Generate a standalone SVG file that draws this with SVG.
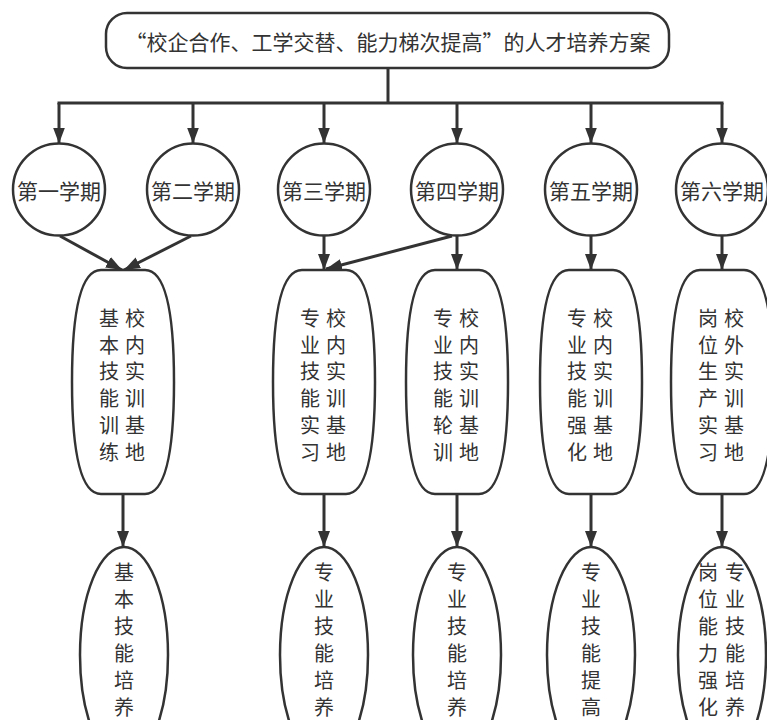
<svg xmlns="http://www.w3.org/2000/svg" width="767" height="720" viewBox="0 0 767 720">
<defs>
<style>
.shape{fill:#fff;stroke:#333;stroke-width:2.5}
.conn{stroke:#333;stroke-width:3;fill:none}
.arr{marker-end:url(#ah)}
text{font-family:"Noto Sans CJK SC","Noto Sans",sans-serif;fill:#333;text-anchor:middle;dominant-baseline:central}
.t1{font-size:21px}
.t2{font-size:20px}
</style>
<marker id="ah" markerUnits="userSpaceOnUse" markerWidth="16" markerHeight="12" refX="16" refY="6" orient="auto">
<path d="M0,0 L16,6 L0,12 Z" fill="#333"/>
</marker>
</defs>
<rect width="767" height="720" fill="#fff"/>

<g id="connectors">
<line class="conn" x1="388" y1="68" x2="388" y2="103"/>
<line class="conn" x1="57.5" y1="103" x2="723.5" y2="103"/>
<line class="conn arr" x1="59" y1="103" x2="59" y2="143.5"/>
<line class="conn arr" x1="193" y1="103" x2="193" y2="143.5"/>
<line class="conn arr" x1="324" y1="103" x2="324" y2="143.5"/>
<line class="conn arr" x1="457" y1="103" x2="457" y2="143.5"/>
<line class="conn arr" x1="591" y1="103" x2="591" y2="143.5"/>
<line class="conn arr" x1="722" y1="103" x2="722" y2="143.5"/>
<line class="conn arr" x1="60" y1="236" x2="122" y2="270"/>
<line class="conn arr" x1="191" y1="236" x2="124" y2="270"/>
<line class="conn arr" x1="324" y1="235.5" x2="324" y2="270"/>
<line class="conn arr" x1="452" y1="236" x2="326" y2="269"/>
<line class="conn arr" x1="457" y1="235.5" x2="457" y2="270"/>
<line class="conn arr" x1="591" y1="235.5" x2="591" y2="270"/>
<line class="conn arr" x1="722" y1="235.5" x2="722" y2="270"/>
<line class="conn arr" x1="123" y1="494" x2="123" y2="547"/>
<line class="conn arr" x1="324" y1="494" x2="324" y2="547"/>
<line class="conn arr" x1="457" y1="494" x2="457" y2="547"/>
<line class="conn arr" x1="591" y1="494" x2="591" y2="547"/>
<line class="conn arr" x1="722" y1="494" x2="722" y2="547"/>
</g>

<g id="title">
<rect class="shape" x="106" y="13" width="563" height="55" rx="21" ry="21"/>
<text class="t1" x="388" y="41">“校企合作、工学交替、能力梯次提高”的人才培养方案</text>
</g>

<g id="sem1"><circle class="shape" cx="59" cy="189.5" r="46"/><text class="t1" x="59" y="189.5">第一学期</text></g>
<g id="sem2"><circle class="shape" cx="193" cy="189.5" r="46"/><text class="t1" x="193" y="189.5">第二学期</text></g>
<g id="sem3"><circle class="shape" cx="324" cy="189.5" r="46"/><text class="t1" x="324" y="189.5">第三学期</text></g>
<g id="sem4"><circle class="shape" cx="457" cy="189.5" r="46"/><text class="t1" x="457" y="189.5">第四学期</text></g>
<g id="sem5"><circle class="shape" cx="591" cy="189.5" r="46"/><text class="t1" x="591" y="189.5">第五学期</text></g>
<g id="sem6"><circle class="shape" cx="722" cy="189.5" r="46"/><text class="t1" x="722" y="189.5">第六学期</text></g>

<g id="base1">
<path class="shape" d="M101,270 H145 C167,270 174,318 174,382 C174,446 167,494 145,494 H101 C79,494 72,446 72,382 C72,318 79,270 101,270 Z"/>
<text class="t2"><tspan x="109" y="317">基</tspan><tspan x="109" y="343.7">本</tspan><tspan x="109" y="370.4">技</tspan><tspan x="109" y="397.1">能</tspan><tspan x="109" y="423.8">训</tspan><tspan x="109" y="450.5">练</tspan></text>
<text class="t2"><tspan x="135" y="317">校</tspan><tspan x="135" y="343.7">内</tspan><tspan x="135" y="370.4">实</tspan><tspan x="135" y="397.1">训</tspan><tspan x="135" y="423.8">基</tspan><tspan x="135" y="450.5">地</tspan></text>
</g>

<g id="base2">
<path class="shape" d="M302,270 H346 C368,270 375,318 375,382 C375,446 368,494 346,494 H302 C280,494 273,446 273,382 C273,318 280,270 302,270 Z"/>
<text class="t2"><tspan x="310" y="317">专</tspan><tspan x="310" y="343.7">业</tspan><tspan x="310" y="370.4">技</tspan><tspan x="310" y="397.1">能</tspan><tspan x="310" y="423.8">实</tspan><tspan x="310" y="450.5">习</tspan></text>
<text class="t2"><tspan x="336" y="317">校</tspan><tspan x="336" y="343.7">内</tspan><tspan x="336" y="370.4">实</tspan><tspan x="336" y="397.1">训</tspan><tspan x="336" y="423.8">基</tspan><tspan x="336" y="450.5">地</tspan></text>
</g>

<g id="base3">
<path class="shape" d="M435,270 H479 C501,270 508,318 508,382 C508,446 501,494 479,494 H435 C413,494 406,446 406,382 C406,318 413,270 435,270 Z"/>
<text class="t2"><tspan x="443" y="317">专</tspan><tspan x="443" y="343.7">业</tspan><tspan x="443" y="370.4">技</tspan><tspan x="443" y="397.1">能</tspan><tspan x="443" y="423.8">轮</tspan><tspan x="443" y="450.5">训</tspan></text>
<text class="t2"><tspan x="469" y="317">校</tspan><tspan x="469" y="343.7">内</tspan><tspan x="469" y="370.4">实</tspan><tspan x="469" y="397.1">训</tspan><tspan x="469" y="423.8">基</tspan><tspan x="469" y="450.5">地</tspan></text>
</g>

<g id="base4">
<path class="shape" d="M569,270 H613 C635,270 642,318 642,382 C642,446 635,494 613,494 H569 C547,494 540,446 540,382 C540,318 547,270 569,270 Z"/>
<text class="t2"><tspan x="577" y="317">专</tspan><tspan x="577" y="343.7">业</tspan><tspan x="577" y="370.4">技</tspan><tspan x="577" y="397.1">能</tspan><tspan x="577" y="423.8">强</tspan><tspan x="577" y="450.5">化</tspan></text>
<text class="t2"><tspan x="603" y="317">校</tspan><tspan x="603" y="343.7">内</tspan><tspan x="603" y="370.4">实</tspan><tspan x="603" y="397.1">训</tspan><tspan x="603" y="423.8">基</tspan><tspan x="603" y="450.5">地</tspan></text>
</g>

<g id="base5">
<path class="shape" d="M700,270 H744 C766,270 773,318 773,382 C773,446 766,494 744,494 H700 C678,494 671,446 671,382 C671,318 678,270 700,270 Z"/>
<text class="t2"><tspan x="708" y="317">岗</tspan><tspan x="708" y="343.7">位</tspan><tspan x="708" y="370.4">生</tspan><tspan x="708" y="397.1">产</tspan><tspan x="708" y="423.8">实</tspan><tspan x="708" y="450.5">习</tspan></text>
<text class="t2"><tspan x="734" y="317">校</tspan><tspan x="734" y="343.7">外</tspan><tspan x="734" y="370.4">实</tspan><tspan x="734" y="397.1">训</tspan><tspan x="734" y="423.8">基</tspan><tspan x="734" y="450.5">地</tspan></text>
</g>

<g id="goal1">
<ellipse class="shape" cx="124" cy="655" rx="44" ry="108"/>
<text class="t2"><tspan x="124" y="571">基</tspan><tspan x="124" y="598">本</tspan><tspan x="124" y="625">技</tspan><tspan x="124" y="652">能</tspan><tspan x="124" y="679">培</tspan><tspan x="124" y="706">养</tspan></text>
</g>
<g id="goal2">
<ellipse class="shape" cx="324" cy="655" rx="44" ry="108"/>
<text class="t2"><tspan x="324" y="571">专</tspan><tspan x="324" y="598">业</tspan><tspan x="324" y="625">技</tspan><tspan x="324" y="652">能</tspan><tspan x="324" y="679">培</tspan><tspan x="324" y="706">养</tspan></text>
</g>
<g id="goal3">
<ellipse class="shape" cx="457" cy="655" rx="44" ry="108"/>
<text class="t2"><tspan x="457" y="571">专</tspan><tspan x="457" y="598">业</tspan><tspan x="457" y="625">技</tspan><tspan x="457" y="652">能</tspan><tspan x="457" y="679">培</tspan><tspan x="457" y="706">养</tspan></text>
</g>
<g id="goal4">
<ellipse class="shape" cx="591" cy="655" rx="44" ry="108"/>
<text class="t2"><tspan x="591" y="571">专</tspan><tspan x="591" y="598">业</tspan><tspan x="591" y="625">技</tspan><tspan x="591" y="652">能</tspan><tspan x="591" y="679">提</tspan><tspan x="591" y="706">高</tspan></text>
</g>
<g id="goal5">
<ellipse class="shape" cx="722" cy="655" rx="44" ry="108"/>
<text class="t2"><tspan x="708" y="571">岗</tspan><tspan x="708" y="598">位</tspan><tspan x="708" y="625">能</tspan><tspan x="708" y="652">力</tspan><tspan x="708" y="679">强</tspan><tspan x="708" y="706">化</tspan></text>
<text class="t2"><tspan x="735" y="571">专</tspan><tspan x="735" y="598">业</tspan><tspan x="735" y="625">技</tspan><tspan x="735" y="652">能</tspan><tspan x="735" y="679">培</tspan><tspan x="735" y="706">养</tspan></text>
</g>
</svg>
